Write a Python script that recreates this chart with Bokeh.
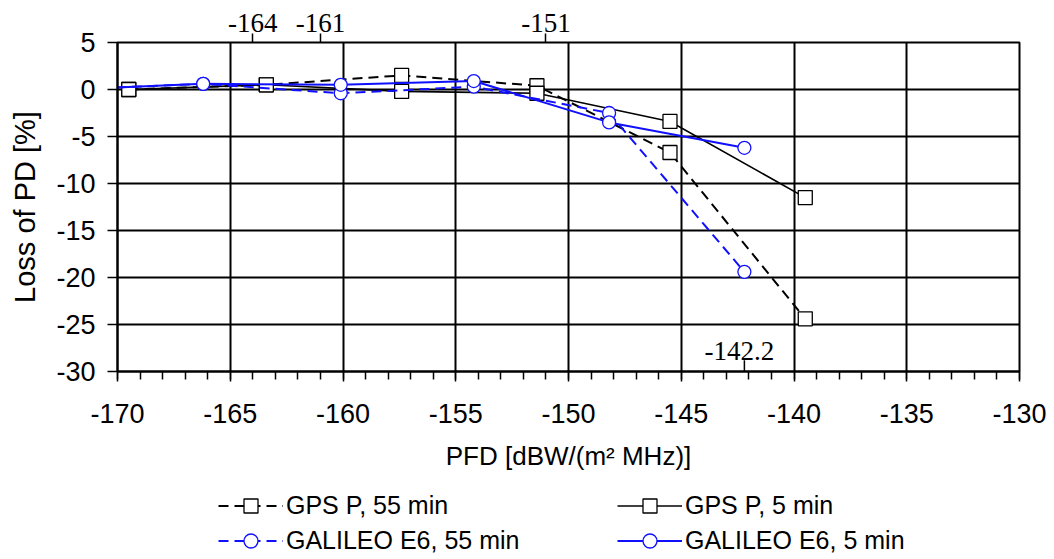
from bokeh.plotting import figure
from bokeh.layouts import column
from bokeh.models import Range1d, FixedTicker, LinearAxis, Legend, LegendItem, Label
from bokeh.embed import file_html
from bokeh.resources import INLINE

# ---- data ----
x_gps = [-169.5, -163.4, -157.4, -151.4, -145.5, -139.5]
gps_p_55 = [0.0, 0.5, 1.5, 0.4, -6.7, -24.4]
gps_p_5 = [0.0, 0.5, -0.2, -0.4, -3.4, -11.5]

x_gal = [-172.2, -166.2, -160.1, -154.2, -148.2, -142.2]
gal_e6_55 = [0.0, 0.6, -0.4, 0.3, -2.5, -19.4]
gal_e6_5 = [0.0, 0.6, 0.5, 0.9, -3.5, -6.2]

x_ticks = [-170, -165, -160, -155, -150, -145, -140, -135, -130]
x_minor = list(range(-170, -129))
y_ticks = [-30, -25, -20, -15, -10, -5, 0, 5]
top_marks = [-164, -161, -151]
bottom_marks = [-142.2]
series_labels = ["GPS P, 55 min", "GPS P, 5 min", "GALILEO E6, 55 min", "GALILEO E6, 5 min"]

SANS = "Liberation Sans"
SERIF = "Liberation Serif"
BLUE = "#1010ff"

# series styles (shared by plot and legend)
styles = [
    dict(color="black", dash="10 6", lw=2, marker="square", size=14),
    dict(color="black", dash="solid", lw=1.6, marker="square", size=14),
    dict(color=BLUE, dash="10 6", lw=2, marker="circle", size=13),
    dict(color=BLUE, dash="solid", lw=2, marker="circle", size=13),
]
series = [(x_gps, gps_p_55), (x_gps, gps_p_5), (x_gal, gal_e6_55), (x_gal, gal_e6_5)]

p = figure(frame_width=902, frame_height=329, output_backend="svg", toolbar_location=None,
           x_range=Range1d(-170, -130), y_range=Range1d(-30, 5),
           min_border_left=117, min_border_right=35, min_border_top=42, min_border_bottom=111)
p.background_fill_color = "white"
p.border_fill_color = "white"
p.outline_line_color = "black"
p.outline_line_width = 2

# axes
xa = p.xaxis[0]
xa.ticker = FixedTicker(ticks=x_ticks, minor_ticks=x_minor)
xa.major_label_overrides = {t: str(t) for t in x_ticks}
xa.axis_line_width = 2
xa.major_tick_out = 10
xa.major_tick_in = 0
xa.minor_tick_out = 8
xa.minor_tick_in = 0
xa.major_tick_line_width = 1.5
xa.minor_tick_line_width = 1.5
xa.major_label_text_font = SANS
xa.major_label_text_font_size = "27px"
xa.major_label_text_color = "black"
xa.major_label_standoff = 22
xa.axis_label = "PFD [dBW/(m\u00b2 MHz)]"
xa.axis_label_text_font = SANS
xa.axis_label_text_font_size = "26px"
xa.axis_label_text_font_style = "normal"
xa.axis_label_text_color = "black"
xa.axis_label_standoff = 15

ya = p.yaxis[0]
ya.ticker = FixedTicker(ticks=y_ticks)
ya.major_label_overrides = {t: str(t) for t in y_ticks}
ya.axis_line_width = 2
ya.major_tick_out = 10
ya.major_tick_in = 0
ya.major_tick_line_width = 1.5
ya.minor_tick_line_color = None
ya.major_label_text_font = SANS
ya.major_label_text_font_size = "27px"
ya.major_label_text_color = "black"
ya.major_label_standoff = 12
ya.axis_label = "Loss of PD [%]"
ya.axis_label_text_font = SANS
ya.axis_label_text_font_size = "29px"
ya.axis_label_text_font_style = "normal"
ya.axis_label_text_color = "black"
ya.axis_label_standoff = 12

top = LinearAxis(ticker=FixedTicker(ticks=top_marks, minor_ticks=[]))
top.major_label_overrides = {t: str(t) for t in top_marks}
top.axis_line_color = None
top.major_tick_out = 9
top.major_tick_in = 0
top.major_tick_line_width = 1.5
top.minor_tick_line_color = None
top.major_label_text_font = SERIF
top.major_label_text_font_size = "27px"
top.major_label_text_color = "black"
top.major_label_standoff = 2
p.add_layout(top, "above")

p.grid.grid_line_color = "black"
p.grid.grid_line_width = 2
p.xgrid.ticker = FixedTicker(ticks=x_ticks)
p.ygrid.ticker = FixedTicker(ticks=y_ticks)

for (xs, ys), st in zip(series, styles):
    p.line(xs, ys, line_color=st["color"], line_width=st["lw"], line_dash=st["dash"])
    p.scatter(xs, ys, marker=st["marker"], size=st["size"], fill_color="white",
              line_color=st["color"], line_width=1.3)

# bottom annotation -142.2
p.segment(x0=bottom_marks, y0=[-30] * len(bottom_marks), x1=bottom_marks, y1=[-28.8] * len(bottom_marks),
          line_color="black", line_width=1.5)
for bm in bottom_marks:
    p.add_layout(Label(x=bm, y=-30, y_offset=12, x_offset=-5, text=str(bm), text_align="center",
                       text_baseline="bottom", text_font=SERIF, text_font_size="27px", text_color="black"))

# legend strip below the chart (its renderers hold the series but lie outside its view)
lg = figure(width=1054, height=77, output_backend="svg", toolbar_location=None,
            x_range=Range1d(0, 1), y_range=Range1d(0, 1),
            min_border_left=117, min_border_right=35, min_border_top=0, min_border_bottom=0)
lg.axis.visible = False
lg.grid.visible = False
lg.outline_line_color = None
lg.background_fill_color = "white"
lg.border_fill_color = "white"

items = []
for lab, (xs, ys), st in zip(series_labels, series, styles):
    lr = lg.line(xs, ys, line_color=st["color"], line_width=st["lw"], line_dash=st["dash"])
    mr = lg.scatter(xs, ys, marker=st["marker"], size=st["size"], fill_color="white",
                    line_color=st["color"], line_width=1.3)
    items.append(LegendItem(label=lab, renderers=[lr, mr]))

legend = Legend(items=items, location=(101, 1), orientation="horizontal", ncols=2,
                glyph_width=65, glyph_height=35, label_width=331, label_standoff=3,
                spacing=0, padding=0, margin=0, border_line_alpha=0, background_fill_alpha=0,
                label_text_font=SANS, label_text_font_size="25px", label_text_color="black")
lg.add_layout(legend)

layout = column(p, lg, spacing=0)
open("out.html", "w").write(file_html(layout, INLINE))
